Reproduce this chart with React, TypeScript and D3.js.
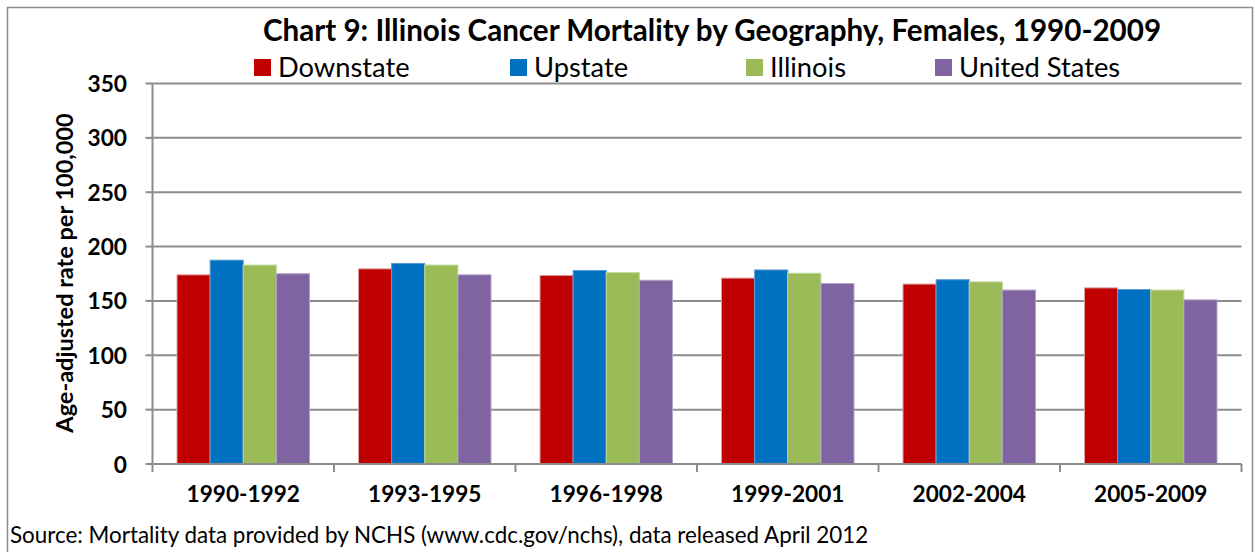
import React, { useEffect, useRef } from 'react';
import * as d3 from 'd3';

const periods = ['1990-1992', '1993-1995', '1996-1998', '1999-2001', '2002-2004', '2005-2009'];
const seriesNames = ['Downstate', 'Upstate', 'Illinois', 'United States'];
const downstate = [174, 179.5, 173.5, 171, 165.5, 162];
const upstate = [187.5, 184.5, 178, 178.5, 169.5, 160.5];
const illinois = [183, 183, 176, 175.5, 167.5, 160];
const unitedStates = [175, 174, 169, 166, 160, 151];
const yTicks = [0, 50, 100, 150, 200, 250, 300, 350];
const colors = ['#C00000', '#0070C0', '#9BBB59', '#8064A2'];
const strokes = ['#E0A0A0', '#5B9BD5', '#C4D79B', '#B3A2C7'];

const font = 'Lato, "Open Sans", sans-serif';

const App = () => {
  const ref = useRef<SVGSVGElement>(null);

  useEffect(() => {
    const svg = d3.select(ref.current);
    svg.selectAll('*').remove();

    const W = 1255, H = 552;
    const left = 152.5, right = 1241.5, top = 83.5, bottom = 464;
    const allSeries = [downstate, upstate, illinois, unitedStates];

    // chart frame
    svg.append('rect')
      .attr('x', 7.5).attr('y', 7.5).attr('width', W - 10).attr('height', H - 5)
      .attr('fill', 'white').attr('stroke', '#8c8c8c').attr('stroke-width', 1.5);

    const x = d3.scaleBand().domain(periods).range([left, right]).paddingInner(0).paddingOuter(0);
    const xs = d3.scaleBand().domain(seriesNames).range([0, x.bandwidth()]).paddingOuter(0.74).paddingInner(0);
    const y = d3.scaleLinear().domain([0, 350]).range([bottom, top]);

    // gridlines
    svg.append('g').selectAll('line').data(yTicks.slice(1)).enter().append('line')
      .attr('x1', left).attr('x2', right)
      .attr('y1', d => y(d)).attr('y2', d => y(d))
      .attr('stroke', '#8c8c8c').attr('stroke-width', 2);

    // bars
    periods.forEach((p, i) => {
      allSeries.forEach((s, j) => {
        svg.append('rect')
          .attr('x', (x(p) as number) + (xs(seriesNames[j]) as number))
          .attr('y', y(s[i]))
          .attr('width', xs.bandwidth())
          .attr('height', bottom - y(s[i]))
          .attr('fill', colors[j])
          .attr('stroke', strokes[j]).attr('stroke-width', 1);
      });
    });

    // axes
    const axes = svg.append('g').attr('stroke', '#8c8c8c').attr('stroke-width', 2);
    axes.append('line').attr('x1', left).attr('x2', left).attr('y1', top).attr('y2', bottom);
    axes.append('line').attr('x1', left).attr('x2', right).attr('y1', bottom).attr('y2', bottom);
    yTicks.forEach(t => {
      axes.append('line').attr('x1', left - 7).attr('x2', left).attr('y1', y(t)).attr('y2', y(t));
    });
    [...periods.map(p => x(p) as number), right].forEach(v => {
      axes.append('line').attr('x1', v).attr('x2', v).attr('y1', bottom).attr('y2', bottom + 8);
    });

    // y tick labels
    svg.append('g').selectAll('text').data(yTicks).enter().append('text')
      .attr('x', 127).attr('y', d => y(d))
      .attr('text-anchor', 'end').attr('dominant-baseline', 'central')
      .attr('font-family', font).attr('font-weight', 'bold').attr('font-size', 22.7)
      .text(d => d);

    // x labels
    svg.append('g').selectAll('text').data(periods).enter().append('text')
      .attr('x', d => (x(d) as number) + x.bandwidth() / 2).attr('y', 502)
      .attr('text-anchor', 'middle')
      .attr('font-family', font).attr('font-weight', 'bold').attr('font-size', 22.6)
      .text(d => d);

    // y title
    svg.append('text')
      .attr('transform', 'translate(73, 273) rotate(-90)')
      .attr('text-anchor', 'middle')
      .attr('font-family', font).attr('font-weight', 'bold').attr('font-size', 23.5)
      .text('Age-adjusted rate per 100,000');

    // title
    svg.append('text')
      .attr('x', 712).attr('y', 41)
      .attr('text-anchor', 'middle')
      .attr('font-family', font).attr('font-weight', 'bold').attr('font-size', 29.6)
      .text('Chart 9: Illinois Cancer Mortality by Geography, Females, 1990-2009');

    // legend
    const legendX = [254, 510, 746, 935];
    seriesNames.forEach((n, j) => {
      svg.append('rect')
        .attr('x', legendX[j]).attr('y', 59).attr('width', 17).attr('height', 17)
        .attr('fill', colors[j]);
      svg.append('text')
        .attr('x', legendX[j] + 24).attr('y', 77)
        .attr('font-family', font).attr('font-size', 27.3)
        .text(n);
    });

    // source
    svg.append('text')
      .attr('x', 10).attr('y', 543)
      .attr('font-family', font).attr('font-size', 22.4)
      .text('Source: Mortality data provided by NCHS (www.cdc.gov/nchs), data released April 2012');
  }, []);

  return <svg ref={ref} width={1255} height={552} style={{ position: 'absolute', left: 0, top: 0 }}></svg>;
};

export default App;
